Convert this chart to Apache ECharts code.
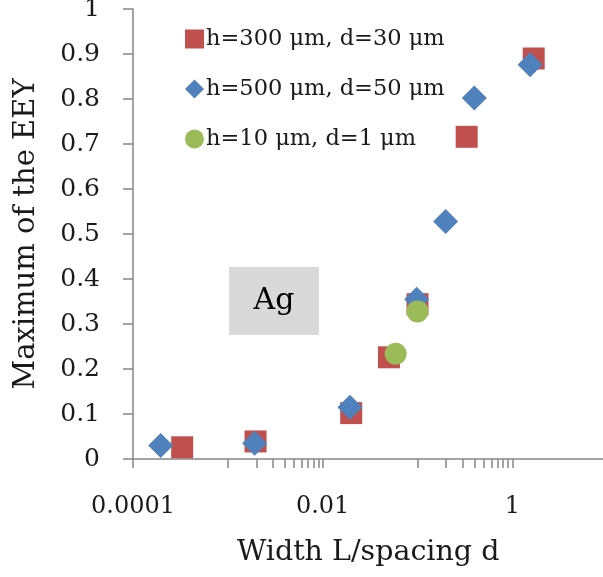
<!DOCTYPE html>
<html>
<head>
<meta charset="utf-8">
<script src="https://cdn.jsdelivr.net/npm/echarts@6/dist/echarts.min.js"></script>
<style>
  html, body { margin: 0; padding: 0; background: #fff; }
  #chart { width: 603px; height: 577px; }
</style>
</head>
<body>
<div id="chart"></div>
<script>
// Maximum EEY versus width/spacing ratio for three electrode geometries (Ag)
const seriesNames = ['h=300 μm, d=30 μm', 'h=500 μm, d=50 μm', 'h=10 μm, d=1 μm'];

// [L/d, max EEY]
const ratioH300 = [0.00033, 0.00196, 0.02, 0.05, 0.1, 0.33, 1.68];
const eeyH300   = [0.026, 0.039, 0.102, 0.226, 0.344, 0.716, 0.89];

const ratioH500 = [0.000196, 0.00192, 0.0194, 0.098, 0.198, 0.397, 1.54];
const eeyH500   = [0.030, 0.035, 0.115, 0.355, 0.528, 0.802, 0.876];

const ratioH10 = [0.0588, 0.1];
const eeyH10   = [0.234, 0.328];

// Axis ticks
const xLabelValues = [0.0001, 0.01, 1, 100];
const xTickValues = [0.0001, 0.001, 0.002, 0.003, 0.004, 0.005, 0.006, 0.007, 0.008, 0.009,
  0.01, 0.1, 0.2, 0.3, 0.4, 0.5, 0.6, 0.7, 0.8, 0.9, 1,
  10, 20, 30, 40, 50, 60, 70, 80, 90, 100];

const pairs = (xs, ys) => xs.map((x, i) => [x, ys[i]]);

const font = 'DejaVu Serif';
const axisColor = '#868686';
const textColor = '#1a1a1a';

const chart = echarts.init(document.getElementById('chart'), null, { renderer: 'canvas' });

chart.setOption({
  animation: false,
  backgroundColor: '#ffffff',
  title: {
    text: 'Width L/spacing d',
    left: 232,
    top: 533,
    textStyle: { fontFamily: font, fontSize: 28.5, fontWeight: 'normal', color: textColor }
  },
  grid: { left: 133, top: 9, bottom: 118, right: -99, containLabel: false, outerBoundsMode: 'none' },
  legend: {
    orient: 'vertical',
    left: 180,
    top: 21,
    itemWidth: 19,
    itemHeight: 19,
    itemGap: 24,
    textStyle: { fontFamily: font, fontSize: 22.5, color: textColor, padding: [0, 0, 0, -3], lineHeight: 26 },
    data: seriesNames
  },
  xAxis: {
    type: 'log',
    logBase: 100,
    min: 0.0001,
    max: 100,
    axisLine: { lineStyle: { color: axisColor, width: 1.5 } },
    axisTick: { inside: false, length: 9, lineStyle: { color: axisColor, width: 1.5 }, customValues: xTickValues },
    axisLabel: {
      customValues: xLabelValues,
      fontFamily: font, fontSize: 24, color: textColor, margin: 36,
      formatter: v => String(v)
    },
    splitLine: { show: false }
  },
  yAxis: {
    type: 'value',
    min: 0,
    max: 1,
    interval: 0.1,
    axisLine: { show: true, lineStyle: { color: axisColor, width: 1.5 } },
    axisTick: { show: true, length: 10, lineStyle: { color: axisColor, width: 1.5 } },
    axisLabel: {
      fontFamily: font, fontSize: 25, color: textColor, margin: 33,
      formatter: v => String(Math.round(v * 10) / 10)
    },
    splitLine: { show: false },
    name: 'Maximum of the EEY',
    nameLocation: 'middle',
    nameGap: 92,
    nameRotate: 90,
    nameTextStyle: { fontFamily: font, fontSize: 29, color: textColor }
  },
  series: [
    {
      name: seriesNames[0], type: 'scatter', symbol: 'rect', symbolSize: 22,
      itemStyle: { color: '#C0504D', opacity: 1 },
      data: pairs(ratioH300, eeyH300), z: 2
    },
    {
      name: seriesNames[1], type: 'scatter', symbol: 'diamond', symbolSize: 25,
      itemStyle: { color: '#4F81BD', opacity: 1 },
      data: pairs(ratioH500, eeyH500), z: 3
    },
    {
      name: seriesNames[2], type: 'scatter', symbol: 'circle', symbolSize: 22,
      itemStyle: { color: '#9BBB59', opacity: 1 },
      data: pairs(ratioH10, eeyH10), z: 4
    }
  ],
  graphic: [
    {
      type: 'group', left: 229, top: 267,
      children: [
        { type: 'rect', shape: { x: 0, y: 0, width: 90, height: 68 }, style: { fill: '#D9D9D9' } },
        { type: 'text', x: 45, y: 34, style: { text: 'Ag', font: '30px "DejaVu Serif"', fill: '#000', align: 'center', verticalAlign: 'middle' } }
      ]
    }
  ]
});
</script>
</body>
</html>
